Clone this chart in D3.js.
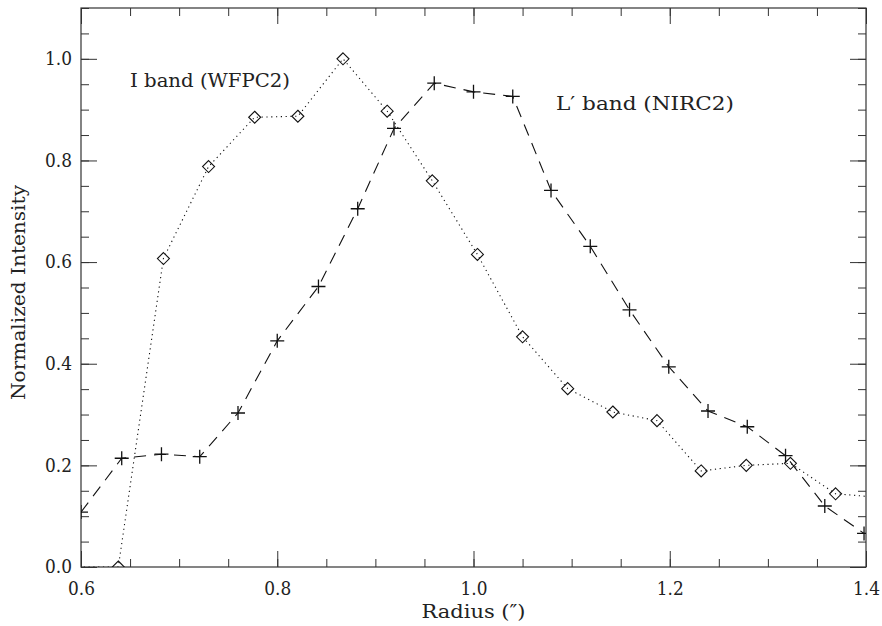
<!DOCTYPE html>
<html><head><meta charset="utf-8">
<script src="https://cdn.jsdelivr.net/npm/d3@7"></script>
<style>body{margin:0;background:#fff}svg{display:block}text{font-family:"DejaVu Serif",serif;fill:#222}</style>
</head><body><svg id="c" width="882" height="626"></svg>
<script>
const iBandX = [0.593,0.638,0.684,0.730,0.777,0.821,0.867,0.912,0.958,1.004,1.050,1.096,1.142,1.187,1.232,1.278,1.323,1.369,1.414];
const iBandY = [0.0,0.0,0.607,0.788,0.885,0.887,1.0,0.897,0.760,0.615,0.453,0.351,0.305,0.288,0.189,0.200,0.204,0.144,0.137];
const lBandX = [0.600,0.6415,0.682,0.721,0.760,0.800,0.842,0.882,0.919,0.960,1.000,1.040,1.079,1.119,1.159,1.199,1.239,1.279,1.318,1.358,1.398];
const lBandY = [0.108,0.214,0.222,0.217,0.303,0.445,0.552,0.705,0.863,0.952,0.935,0.926,0.741,0.631,0.506,0.394,0.307,0.276,0.219,0.120,0.066];
const xTicks = [0.6,0.8,1.0,1.2,1.4];
const yTicks = [0.0,0.2,0.4,0.6,0.8,1.0];
const xTitle = "Radius (\u2033)";
const yTitle = "Normalized Intensity";
const labelI = "I band (WFPC2)";
const labelL = "L\u2032 band (NIRC2)";

const svg = d3.select("#c");
const L=81, R=866, T=8, B=567;
const x = d3.scaleLinear().domain([0.6,1.4]).range([L,R]);
const y = d3.scaleLinear().domain([0,1.1]).range([B,T]);

svg.append("defs").append("clipPath").attr("id","clip").append("rect")
  .attr("x",L).attr("y",T).attr("width",R-L).attr("height",B-T);

const minorX = d3.range(0.6,1.4001,0.05);
const minorY = d3.range(0,1.1001,0.05);
function styleAxis(g){ g.select(".domain").remove(); g.selectAll("line").attr("stroke","#333");
  g.selectAll("text").attr("font-size",18).attr("font-family","DejaVu Serif").attr("fill","#222")
   .attr("textLength",27).attr("lengthAdjust","spacingAndGlyphs"); }

// bottom
svg.append("g").attr("transform",`translate(0,${B})`).call(d3.axisTop(x).tickValues(minorX).tickSize(8).tickFormat("")).call(styleAxis);
svg.append("g").attr("transform",`translate(0,${B})`).call(d3.axisTop(x).tickValues(xTicks).tickSize(16).tickFormat("")).call(styleAxis);
svg.append("g").attr("transform",`translate(0,${B})`).call(d3.axisBottom(x).tickValues(xTicks).tickSize(0).tickPadding(15).tickFormat(d3.format(".1f"))).call(styleAxis);
// top
svg.append("g").attr("transform",`translate(0,${T})`).call(d3.axisBottom(x).tickValues(minorX).tickSize(8).tickFormat("")).call(styleAxis);
svg.append("g").attr("transform",`translate(0,${T})`).call(d3.axisBottom(x).tickValues(xTicks).tickSize(16).tickFormat("")).call(styleAxis);
// left
svg.append("g").attr("transform",`translate(${L},0)`).call(d3.axisRight(y).tickValues(minorY).tickSize(8).tickFormat("")).call(styleAxis);
svg.append("g").attr("transform",`translate(${L},0)`).call(d3.axisRight(y).tickValues(yTicks).tickSize(16).tickFormat("")).call(styleAxis);
svg.append("g").attr("transform",`translate(${L},0)`).call(d3.axisLeft(y).tickValues(yTicks).tickSize(0).tickPadding(9).tickFormat(d3.format(".1f"))).call(styleAxis);
// right
svg.append("g").attr("transform",`translate(${R},0)`).call(d3.axisLeft(y).tickValues(minorY).tickSize(8).tickFormat("")).call(styleAxis);
svg.append("g").attr("transform",`translate(${R},0)`).call(d3.axisLeft(y).tickValues(yTicks).tickSize(16).tickFormat("")).call(styleAxis);

svg.append("rect").attr("x",L).attr("y",T).attr("width",R-L).attr("height",B-T)
  .attr("fill","none").attr("stroke","#333").attr("stroke-width",1.2);

const plot = svg.append("g").attr("clip-path","url(#clip)");
const iData = iBandX.map((d,i)=>[d,iBandY[i]]);
const lData = lBandX.map((d,i)=>[d,lBandY[i]]);
const line = d3.line().x(d=>x(d[0])).y(d=>y(d[1]));

plot.append("path").datum(iData).attr("d",line).attr("fill","none").attr("stroke","#111")
  .attr("stroke-width",1.1).attr("stroke-dasharray","1.2,3.6");
plot.append("path").datum(lData).attr("d",line).attr("fill","none").attr("stroke","#111")
  .attr("stroke-width",1.1).attr("stroke-dasharray","12,8");

plot.selectAll(".dia").data(iData.slice(1)).enter().append("path")
  .attr("d",d=>{const cx=x(d[0]),cy=y(d[1]),s=6;return `M${cx},${cy-s}L${cx+s},${cy}L${cx},${cy+s}L${cx-s},${cy}Z`;})
  .attr("fill","none").attr("stroke","#111").attr("stroke-width",1.1);
plot.selectAll(".crs").data(lData).enter().append("path")
  .attr("d",d=>{const cx=x(d[0]),cy=y(d[1]),s=7;return `M${cx-s},${cy}H${cx+s}M${cx},${cy-s}V${cy+s}`;})
  .attr("fill","none").attr("stroke","#111").attr("stroke-width",1.3);

svg.append("text").attr("x",130).attr("y",87).attr("font-size",18).attr("textLength",160).attr("lengthAdjust","spacingAndGlyphs").text(labelI);
svg.append("text").attr("x",556).attr("y",110).attr("font-size",18).attr("textLength",178).attr("lengthAdjust","spacingAndGlyphs").text(labelL);
svg.append("text").attr("x",(L+R)/2).attr("y",618).attr("font-size",18).attr("text-anchor","middle").attr("textLength",104).attr("lengthAdjust","spacingAndGlyphs").text(xTitle);
svg.append("text").attr("transform",`translate(25,${(T+B)/2+5}) rotate(-90)`).attr("font-size",18)
  .attr("text-anchor","middle").attr("textLength",215).attr("lengthAdjust","spacingAndGlyphs").text(yTitle);
</script></body></html>
